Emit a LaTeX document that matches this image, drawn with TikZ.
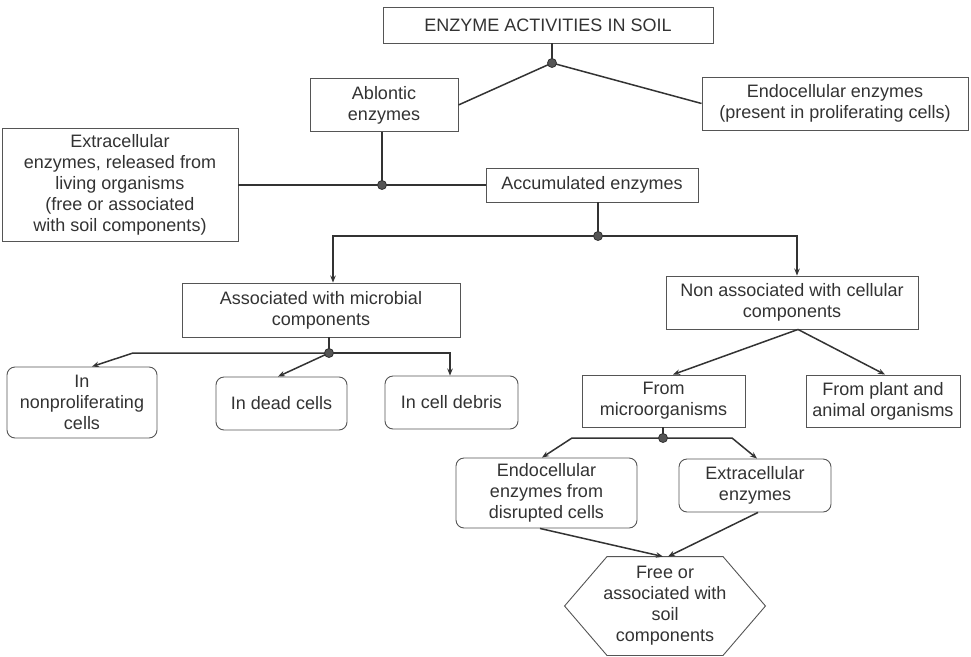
\documentclass[tikz,border=0pt]{standalone}
\usepackage{fontspec}
\setmainfont{Liberation Sans}
\usetikzlibrary{calc,arrows.meta}

\definecolor{ink}{HTML}{333333}
\definecolor{edge}{HTML}{555555}

\begin{document}
\begin{tikzpicture}[x=1pt,y=-1pt,
  box/.style={draw=edge, line width=0.9pt, align=center, inner sep=0pt,
    text=ink, font=\fontsize{18}{21}\selectfont},
  rbox/.style={box, rounded corners=8pt},
  link/.style={draw=ink, line width=1.5pt},
  arr/.style={link, -{Stealth[length=7pt,width=5.5pt]}},
  dot/.style={circle, fill=edge, draw=ink, line width=0.8pt, inner sep=0pt, minimum size=9pt},
]
\useasboundingbox (0,0) rectangle (971,656);
\fill[white] (0,0) rectangle (971,656);

% boxes
\node[box, minimum width=330, minimum height=36] (top) at (548,25) {ENZYME ACTIVITIES IN SOIL};
\node[box, minimum width=148, minimum height=53] (abl) at (384,105) {Ablontic\\enzymes};
\node[box, minimum width=266, minimum height=53] (endo) at (835,103.5) {Endocellular enzymes\\(present in proliferating cells)};
\node[box, minimum width=236, minimum height=113] (extra) at (120,185) {Extracellular\\enzymes, released from\\living organisms\\(free or associated\\with soil components)};
\node[box, minimum width=212, minimum height=34] (acc) at (592,185) {Accumulated enzymes};
\node[box, minimum width=278, minimum height=54] (assoc) at (321,310) {Associated with microbial\\components};
\node[box, minimum width=252, minimum height=53] (nonassoc) at (792,302.5) {Non associated with cellular\\components};
\node[rbox, minimum width=150, minimum height=71] (nonprolif) at (82,402.5) {In\\nonproliferating\\cells};
\node[rbox, minimum width=131, minimum height=53] (dead) at (281.5,403.5) {In dead cells};
\node[rbox, minimum width=133, minimum height=53] (debris) at (451.5,402.5) {In cell debris};
\node[box, minimum width=163, minimum height=52] (micro) at (663.5,401) {From\\microorganisms};
\node[box, minimum width=154, minimum height=52] (plant) at (883,401) {From plant and\\animal organisms};
\node[rbox, minimum width=181, minimum height=70] (endodis) at (546.5,493) {Endocellular\\enzymes from\\disrupted cells};
\node[rbox, minimum width=152, minimum height=53] (extraenz) at (755,485.5) {Extracellular\\enzymes};
\node[box, draw=none, minimum width=200, minimum height=98] (hex) at (665,606) {Free or\\associated with\\soil\\components};
\draw[draw=edge, line width=0.9pt] (hex.west) -- ($(hex.north)+(-58,0)$) -- ($(hex.north)+(58,0)$)
  -- (hex.east) -- ($(hex.south)+(58,0)$) -- ($(hex.south)+(-58,0)$) -- cycle;

% junction points
\coordinate (j1) at (552,63);
\coordinate (j2) at (382,185);
\coordinate (j3) at (598,236);
\coordinate (j4) at (329,353);
\coordinate (j5) at (663,438);
\coordinate (k1) at (133,353);
\coordinate (k2) at (572,438);
\coordinate (k3) at (732,438);

% connectors
\draw[link] (j1 |- top.south) -- (j1);
\draw[link] (j1) -- (abl.east);
\draw[link] (j1) -- (endo.west);
\draw[link] (j2 |- abl.south) -- (j2);
\draw[link] (extra.east) -- (j2) -- (acc.west);
\draw[link] (j3 |- acc.south) -- (j3);
\draw[arr] (j3) -| ([xshift=12pt]assoc.north);
\draw[arr] (j3) -| ([xshift=5pt]nonassoc.north);
\draw[link] (j4 |- assoc.south) -- (j4);
\draw[arr] (j4) -- (k1) -- ([xshift=10pt]nonprolif.north);
\draw[arr] (j4) -- ([xshift=-3.5pt]dead.north);
\draw[arr] (j4) -| ([xshift=-1.5pt]debris.north);
\draw[arr] ([xshift=6pt]nonassoc.south) -- ([xshift=9.5pt]micro.north);
\draw[arr] ([xshift=6pt]nonassoc.south) -- ([xshift=2pt]plant.north);
\draw[link] (j5 |- micro.south) -- (j5);
\draw[arr] (j5) -- (k2) -- ([xshift=-4.5pt]endodis.north);
\draw[arr] (j5) -- (k3) -- ([xshift=2pt]extraenz.north);
\draw[arr] ([xshift=-6.5pt]endodis.south) -- ([xshift=-2pt]hex.north);
\draw[arr] ([xshift=3pt]extraenz.south) -- ([xshift=3pt]hex.north);

% junction dots
\node[dot] (d1) at (j1) {};
\node[dot] (d2) at (j2) {};
\node[dot] (d3) at (j3) {};
\node[dot] (d4) at (j4) {};
\node[dot] (d5) at (j5) {};
\end{tikzpicture}
\end{document}
